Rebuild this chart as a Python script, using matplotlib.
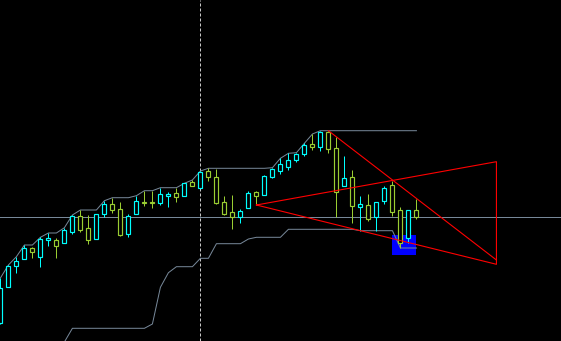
import numpy as np
import pandas as pd
import matplotlib
matplotlib.use('Agg')
import matplotlib.pyplot as plt
from matplotlib.patches import Rectangle

# candles (screen-style price units, smaller = higher)
opens = [322.7, 287.3, 266.3, 259.3, 248.3, 257.3, 239.7, 240.0, 243.3, 231.7,
         216.3, 228.3, 239.3, 214.3, 204.0, 209.3, 234.3, 213.7, 201.5, 201.5,
         202.7, 195.5, 193.0, 195.7, 182.0, 188.3, 171.0, 177.3, 202.3, 212.3,
         217.3, 208.3, 192.3, 195.3, 176.7, 170.7, 167.0, 159.7, 153.7, 144.0,
         146.7, 132.0, 148.3, 185.7, 177.3, 206.5, 205.0, 216.7, 200.7, 185.0,
         210.0, 238.3, 210.0]
closes = [288.0, 266.0, 261.0, 248.3, 252.3, 239.0, 237.7, 245.7, 230.0, 215.7,
          229.7, 240.3, 214.3, 204.0, 210.0, 234.7, 215.7, 201.3, 203.0, 203.0,
          194.0, 194.0, 196.7, 183.3, 185.7, 172.3, 177.3, 202.7, 213.7, 217.3,
          211.3, 193.3, 195.7, 176.0, 169.3, 164.3, 160.3, 154.3, 145.3, 146.7,
          132.0, 149.3, 192.3, 178.3, 205.7, 204.3, 219.0, 202.3, 188.3, 211.7,
          243.3, 210.0, 217.3]
highs = [278.0, 265.0, 256.7, 245.0, 246.7, 237.3, 233.0, 237.7, 227.7, 215.0,
         210.0, 215.0, 214.3, 200.7, 197.7, 202.0, 214.0, 195.7, 190.7, 190.7,
         187.7, 192.0, 187.7, 183.3, 180.0, 171.0, 168.3, 169.0, 196.0, 195.0,
         209.3, 191.0, 191.0, 175.0, 167.7, 158.3, 153.3, 152.7, 143.3, 134.0,
         130.7, 130.7, 137.3, 156.0, 170.0, 196.0, 194.0, 202.3, 186.0, 181.0,
         207.3, 210.0, 198.5]
lows = [324.0, 287.3, 272.7, 259.3, 258.3, 266.7, 245.7, 258.3, 243.3, 234.3,
        231.7, 243.7, 239.0, 216.7, 212.7, 236.0, 237.3, 213.7, 205.7, 207.7,
        205.3, 206.7, 201.7, 195.7, 185.7, 188.3, 180.7, 203.7, 214.7, 229.3,
        222.7, 208.3, 205.0, 195.3, 178.3, 174.3, 169.7, 162.3, 155.7, 150.0,
        150.7, 152.7, 217.3, 185.7, 222.7, 230.7, 220.7, 230.7, 204.3, 216.0,
        248.0, 242.7, 219.0]

# channel floor before 20 bars are on screen
early_lowest = [np.nan] * 8 + [342.0] + [328.3] * 10

level_line = 217.3
marker_bar = 25

# triangle objects (bar index, price)
tri_bars = [32, 62, 62, 32]
tri_prices = [205.0, 161.7, 264.3, 205.0]
slope_bars = [41, 62]
slope_prices = [130.7, 260.0]

box_bars = [48.95, 51.95]
box_prices = [235.0, 255.0]

cyan = '#00ffff'
green = '#9acd32'
grey = '#778899'
px = 0.72

idx = np.arange(len(opens))
highest = pd.Series(highs).rolling(20, min_periods=1).min()
lowest = pd.Series(lows).rolling(20).max()
lowest[:19] = early_lowest

fig = plt.figure(figsize=(5.61, 3.41), dpi=100, facecolor='black')
ax = fig.add_axes([0, 0, 1, 1], facecolor='black')
ax.set_xlim(-0.05, 70.07)
ax.set_ylim(341, 0)
ax.axis('off')

ax.add_patch(Rectangle((box_bars[0], box_prices[0]), box_bars[1] - box_bars[0],
                       box_prices[1] - box_prices[0], facecolor='#0000ff',
                       edgecolor='none', zorder=1))

ax.axhline(level_line, color=grey, lw=px, zorder=2)
ax.axvline(marker_bar, color='#c8c8c8', lw=px, dashes=(3, 2), zorder=2)

ax.plot(idx, highest, color=grey, lw=px, zorder=3)
ax.plot(idx, lowest, color=grey, lw=px, zorder=3)

for i in idx:
    up = closes[i] < opens[i]
    c = cyan if up else green
    top = min(opens[i], closes[i])
    bot = max(opens[i], closes[i])
    ax.vlines(i, highs[i], lows[i], color=c, lw=px, zorder=4)
    ax.add_patch(Rectangle((i - 0.25, top), 0.5, max(bot - top, 0.8),
                           facecolor='black', edgecolor=c, lw=0.85, zorder=5))

ax.plot(tri_bars, tri_prices, color='#ff0000', lw=0.8, zorder=6)
ax.plot(slope_bars, slope_prices, color='#ff0000', lw=0.8, zorder=6)

fig.savefig('out.png', dpi=100, facecolor='black')
